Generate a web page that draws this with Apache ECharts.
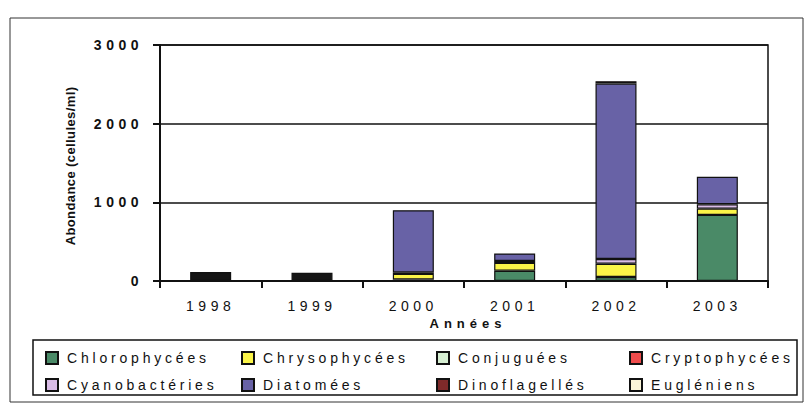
<!DOCTYPE html>
<html>
<head>
<meta charset="utf-8">
<script src="https://cdn.jsdelivr.net/npm/echarts@6/dist/echarts.min.js"></script>
<style>
html,body{margin:0;padding:0;background:#fff;}
#main{width:806px;height:407px;}
</style>
</head>
<body>
<div id="main"></div>
<script>
// ---- data ----
var categories = ['1998', '1999', '2000', '2001', '2002', '2003'];
var yTicks = [0, 1000, 2000, 3000];
var chlorophycees  = [0, 0, 20, 130, 50, 840];
var chrysophycees  = [0, 0, 70, 100, 170, 80];
var conjuguees     = [0, 0, 0, 0, 0, 0];
var cryptophycees  = [0, 0, 0, 0, 0, 0];
var cyanobacteries = [0, 0, 20, 25, 60, 55];
var diatomees      = [0, 0, 790, 95, 2230, 350];
var dinoflagelles  = [0, 0, 0, 0, 30, 0];
var eugleniens     = [0, 0, 0, 0, 0, 0];
var totalNonDetaille = [115, 105, 0, 0, 0, 0];

var seriesNames = ['Chlorophycées', 'Chrysophycées', 'Conjuguées', 'Cryptophycées',
                   'Cyanobactéries', 'Diatomées', 'Dinoflagellés', 'Eugléniens'];
var seriesData = [chlorophycees, chrysophycees, conjuguees, cryptophycees,
                  cyanobacteries, diatomees, dinoflagelles, eugleniens];
var colors = ['#4a8a67', '#fbf548', '#d6efd2', '#ee4b4b',
              '#d9bce6', '#6862a6', '#7e2a2a', '#fbf5d9'];

var FONT = "'Liberation Sans', Arial, sans-serif";

var series = seriesNames.map(function (n, i) {
  return {
    name: n, type: 'bar', stack: 'total', barWidth: 41,
    itemStyle: { color: colors[i], borderColor: '#111', borderWidth: 1.2 },
    data: seriesData[i].map(function (v) { return v ? v : null; })
  };
});
series.push({
  name: 'Total', type: 'bar', stack: 'total', barWidth: 41,
  itemStyle: { color: '#151515', borderColor: '#111', borderWidth: 1.2 },
  data: totalNonDetaille.map(function (v) { return v ? v : null; })
});

function legendCol(left, names) {
  return {
    data: names, orient: 'vertical', left: left, top: 351,
    padding: 0, itemWidth: 12, itemHeight: 12, itemGap: 13,
    icon: 'rect',
    textStyle: { fontFamily: FONT, fontSize: 14, color: '#111', padding: [0, 0, 0, 4] }
  };
}

var chart = echarts.init(document.getElementById('main'), null, { renderer: 'svg' });
chart.setOption({
  backgroundColor: '#fff',
  animation: false,
  grid: { left: 160, right: 38, top: 45, bottom: 126, show: true, borderColor: '#111', borderWidth: 1.5 },
  xAxis: {
    type: 'category', data: categories,
    axisLine: { lineStyle: { color: '#111', width: 2 } },
    axisTick: { show: true, length: 7, lineStyle: { color: '#111', width: 2 } },
    axisLabel: { fontFamily: FONT, fontSize: 14, color: '#111', margin: 18 }
  },
  yAxis: {
    type: 'value', min: 0, max: 3000, interval: 1000,
    axisLine: { show: true, lineStyle: { color: '#111', width: 2 } },
    axisTick: { show: true, length: 7, lineStyle: { color: '#111', width: 2 } },
    splitLine: { lineStyle: { color: '#111', width: 1.5 } },
    axisLabel: { fontFamily: FONT, fontSize: 14, fontWeight: 'bold', color: '#111', margin: 17,
      formatter: function (v) { return yTicks.indexOf(v) >= 0 ? String(v) : ''; } }
  },
  legend: [
    legendCol(45, ['Chlorophycées', 'Cyanobactéries']),
    legendCol(241, ['Chrysophycées', 'Diatomées']),
    legendCol(436, ['Conjuguées', 'Dinoflagellés']),
    legendCol(629, ['Cryptophycées', 'Eugléniens'])
  ],
  graphic: [
    { type: 'rect', silent: true, z: -1, shape: { x: 10, y: 18, width: 793, height: 384 },
      style: { fill: 'none', stroke: '#333', lineWidth: 1 } },
    { type: 'rect', silent: true, z: -1, shape: { x: 33, y: 340, width: 764, height: 55 },
      style: { fill: 'none', stroke: '#111', lineWidth: 1.5 } },
    { type: 'text', x: 70, y: 166, rotation: Math.PI / 2,
      style: { text: 'Abondance (cellules/ml)', font: 'bold 13px ' + FONT, fill: '#111',
               textAlign: 'center', textVerticalAlign: 'middle' } },
    { type: 'text', x: 468, y: 323,
      style: { text: 'Années', font: 'bold 13px ' + FONT, fill: '#111',
               textAlign: 'center', textVerticalAlign: 'middle' } }
  ],
  series: series
});

// letter spacing, as in the scanned figure
function spaceText() {
  var texts = document.querySelectorAll('#main svg text');
  texts.forEach(function (t) {
    var s = t.textContent;
    var ls = '0px';
    if (/^\d+$/.test(s)) ls = '4.5px';
    else if (s === 'Années') ls = '5px';
    else if (seriesNames.indexOf(s) >= 0) ls = '3.8px';
    else if (s.indexOf('Abondance') === 0) ls = '0.4px';
    t.style.letterSpacing = ls;
  });
}
spaceText();
chart.on('finished', spaceText);
</script>
</body>
</html>
